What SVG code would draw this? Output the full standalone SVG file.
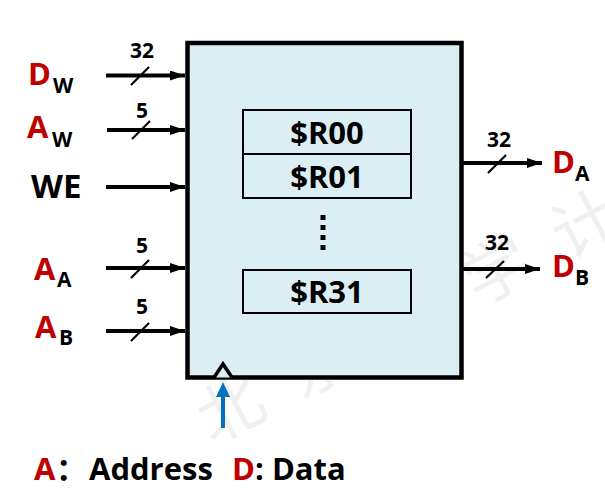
<svg xmlns="http://www.w3.org/2000/svg" width="605" height="491" viewBox="0 0 605 491">
<style>
  text { font-family: "Open Sans", "Noto Sans", "Noto Sans CJK SC", sans-serif; font-weight: bold; }
  .red { fill: #C00000; }
  .blk { fill: #000; }
  .big { font-size: 31px; }
  .sub { font-size: 21px; }
  .num { font-size: 21px; text-anchor: middle; }
  .reg { font-size: 31px; text-anchor: middle; }
  .wire { stroke: #000; stroke-width: 4; fill: none; }
  .slash { stroke: #000; stroke-width: 2.2; }
  .wm { font-family: "Noto Sans CJK SC", sans-serif; font-weight: normal; font-size: 66px; fill: #000; fill-opacity: 0.06; }
</style>
<defs>
  <marker id="ah" viewBox="0 0 15 10" refX="15" refY="5" markerWidth="15" markerHeight="10" markerUnits="userSpaceOnUse" orient="auto">
    <path d="M0,0 L15,5 L0,10 Z" fill="#000"/>
  </marker>
</defs>

<g id="watermark">
  <text class="wm" x="212" y="445" letter-spacing="34" transform="rotate(-27.5 212 445)">北京大学计</text>
</g>

<g id="regfile">
  <rect x="187.5" y="43" width="274" height="334.5" fill="#DAEEF3" stroke="#000" stroke-width="4.5"/>
  <path d="M214,377.5 L223,364 L232,377.5" fill="#DAEEF3" stroke="#000" stroke-width="3.5" stroke-linejoin="miter"/>
</g>

<g id="r00">
  <rect x="243" y="110" width="168" height="44" fill="none" stroke="#000" stroke-width="2"/>
  <text class="reg blk" x="327" y="144">$R00</text>
</g>
<g id="r01">
  <rect x="243" y="154" width="168" height="44" fill="none" stroke="#000" stroke-width="2"/>
  <text class="reg blk" x="327" y="188">$R01</text>
</g>
<g id="dots">
  <rect x="320.5" y="215" width="5" height="5" fill="#000"/>
  <rect x="320.5" y="225" width="5" height="5" fill="#000"/>
  <rect x="320.5" y="235" width="5" height="5" fill="#000"/>
  <rect x="320.5" y="245" width="5" height="5" fill="#000"/>
</g>
<g id="r31">
  <rect x="243" y="270" width="168" height="43" fill="none" stroke="#000" stroke-width="2"/>
  <text class="reg blk" x="327" y="303">$R31</text>
</g>

<g id="connectors">
  <line class="wire" x1="106" y1="75.5" x2="185" y2="75.5" marker-end="url(#ah)"/>
  <line class="slash" x1="131" y1="85" x2="149" y2="67"/>
  <line class="wire" x1="107" y1="130" x2="185" y2="130" marker-end="url(#ah)"/>
  <line class="slash" x1="132" y1="139" x2="150" y2="121"/>
  <line class="wire" x1="106" y1="187" x2="185" y2="187" marker-end="url(#ah)"/>
  <line class="wire" x1="106" y1="268" x2="185" y2="268" marker-end="url(#ah)"/>
  <line class="slash" x1="131" y1="278" x2="149" y2="260"/>
  <line class="wire" x1="106" y1="331" x2="185" y2="331" marker-end="url(#ah)"/>
  <line class="slash" x1="131" y1="341" x2="149" y2="323"/>
  <line class="wire" x1="462" y1="163" x2="542" y2="163" marker-end="url(#ah)"/>
  <line class="slash" x1="488" y1="173" x2="506" y2="155"/>
  <line class="wire" x1="462" y1="269" x2="540" y2="269" marker-end="url(#ah)"/>
  <line class="slash" x1="486" y1="278" x2="504" y2="261"/>
  <line x1="223" y1="428" x2="223" y2="396" stroke="#0070C0" stroke-width="4"/>
  <path d="M216,397 L223,382 L230,397 Z" fill="#0070C0"/>
</g>

<g id="labels">
  <text class="num blk" x="142" y="58">32</text>
  <text class="num blk" x="142" y="118">5</text>
  <text class="num blk" x="142" y="253">5</text>
  <text class="num blk" x="142" y="314">5</text>
  <text class="num blk" x="499" y="147">32</text>
  <text class="num blk" x="497" y="250">32</text>

  <text class="big red" x="28" y="85">D</text><text class="sub blk" x="53" y="93">W</text>
  <text class="big red" x="27" y="138">A</text><text class="sub blk" x="52" y="147">W</text>
  <text class="blk" x="31" y="198" font-size="33">WE</text>
  <text class="big red" x="34" y="280">A</text><text class="sub blk" x="57" y="287">A</text>
  <text class="big red" x="35" y="338">A</text><text class="sub blk" x="59" y="345">B</text>

  <text class="big red" x="552" y="173">D</text><text class="sub blk" x="575" y="181">A</text>
  <text class="big red" x="552" y="277">D</text><text class="sub blk" x="575" y="285">B</text>

  <text class="big red" x="34" y="480">A</text>
  <text class="big blk" x="56" y="480">：</text>
  <text class="big blk" x="89" y="480">Address</text>
  <text class="big red" x="232" y="480">D</text>
  <text class="big blk" x="255" y="480">: Data</text>
</g>
</svg>
